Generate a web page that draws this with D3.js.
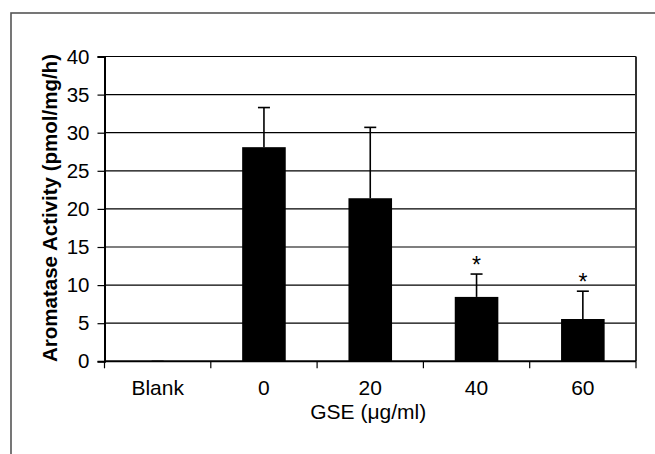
<!DOCTYPE html>
<html>
<head>
<meta charset="utf-8">
<script src="https://cdn.jsdelivr.net/npm/d3@7"></script>
<style>
  body { margin: 0; background: #fff; }
  text { font-family: "Liberation Sans", Arial, sans-serif; }
</style>
</head>
<body>
<div id="chart"></div>
<script>
// GSE dose vs aromatase activity, mean + SD (upper bar only)
const categories = ["Blank", "0", "20", "40", "60"];
const means = [0, 28.1, 21.4, 8.45, 5.55];
const errors = [0.05, 5.2, 9.3, 3.0, 3.65];
const significant = [false, false, false, true, true];
const yTicks = [0, 5, 10, 15, 20, 25, 30, 35, 40];

const W = 655, H = 454;
const margin = { top: 56.5, right: 19, bottom: 92.7, left: 104.5 };
const width = W - margin.left - margin.right;
const height = H - margin.top - margin.bottom;

const data = categories.map((c, i) => ({ cat: c, mean: means[i], err: errors[i], sig: significant[i] }));

const svg = d3.select("#chart").append("svg")
  .attr("width", W)
  .attr("height", H);

// outer frame, runs off the right and bottom edges
svg.append("rect")
  .attr("x", 11).attr("y", 13)
  .attr("width", 700).attr("height", 500)
  .attr("fill", "none")
  .attr("stroke", "#555")
  .attr("stroke-width", 1.6);

const g = svg.append("g")
  .attr("transform", "translate(" + margin.left + "," + margin.top + ")");

const x = d3.scaleBand()
  .domain(categories)
  .range([0, width])
  .paddingInner(0.59)
  .paddingOuter(0.295);

const y = d3.scaleLinear().domain([0, 40]).range([height, 0]);

// gridlines
g.append("g")
  .selectAll("line")
  .data(yTicks.filter(t => t > 0))
  .enter().append("line")
  .attr("x1", 0).attr("x2", width)
  .attr("y1", d => y(d)).attr("y2", d => y(d))
  .attr("stroke", "#000")
  .attr("stroke-width", 1.2);

// right border of plot area
g.append("line")
  .attr("x1", width).attr("x2", width)
  .attr("y1", 0).attr("y2", height)
  .attr("stroke", "#333")
  .attr("stroke-width", 2);

// bars
g.append("g")
  .selectAll("rect")
  .data(data)
  .enter().append("rect")
  .attr("x", d => x(d.cat))
  .attr("y", d => y(d.mean))
  .attr("width", x.bandwidth())
  .attr("height", d => y(0) - y(d.mean))
  .attr("fill", "#000");

// error bars (upper only)
const eb = g.append("g").selectAll("g")
  .data(data)
  .enter().append("g")
  .attr("transform", d => "translate(" + (x(d.cat) + x.bandwidth() / 2) + ",0)");

eb.append("line")
  .attr("y1", d => y(d.mean)).attr("y2", d => y(d.mean + d.err))
  .attr("stroke", d => d.mean > 0 ? "#000" : "#888")
  .attr("stroke-width", 1.6);

eb.append("line")
  .attr("x1", -6).attr("x2", 6)
  .attr("y1", d => y(d.mean + d.err)).attr("y2", d => y(d.mean + d.err))
  .attr("stroke", d => d.mean > 0 ? "#000" : "#888")
  .attr("stroke-width", 1.6);

eb.filter(d => d.sig).append("text")
  .attr("y", d => y(d.mean + d.err) - 1)
  .attr("text-anchor", "middle")
  .attr("font-size", "23px")
  .text("*");

// y axis
const yAxis = g.append("g")
  .call(d3.axisLeft(y).tickValues(yTicks).tickSize(7).tickPadding(8));
yAxis.select(".domain").attr("stroke", "#000").attr("stroke-width", 2);
yAxis.selectAll(".tick line").attr("stroke", "#000").attr("stroke-width", 1.2);
yAxis.selectAll(".tick text")
  .attr("font-size", "20.5px")
  .attr("font-family", "'Liberation Sans', Arial, sans-serif")
  .attr("fill", "#000");

// x axis: ticks on band boundaries
const step = x.step();
const boundaries = d3.range(categories.length + 1).map(i => i * step);
const xAxis = g.append("g").attr("transform", "translate(0," + height + ")");
xAxis.append("line")
  .attr("x1", 0).attr("x2", width)
  .attr("stroke", "#000").attr("stroke-width", 2);
xAxis.selectAll(".bt")
  .data(boundaries)
  .enter().append("line")
  .attr("class", "bt")
  .attr("x1", d => d).attr("x2", d => d)
  .attr("y1", 0).attr("y2", 7)
  .attr("stroke", "#000").attr("stroke-width", 1.2);
xAxis.selectAll(".cl")
  .data(categories)
  .enter().append("text")
  .attr("class", "cl")
  .attr("x", d => x(d) + x.bandwidth() / 2)
  .attr("y", 33.5)
  .attr("text-anchor", "middle")
  .attr("font-size", "21px")
  .text(d => d);

// axis titles
svg.append("text")
  .attr("x", margin.left + width / 2 - 2)
  .attr("y", 419)
  .attr("text-anchor", "middle")
  .attr("font-size", "21px")
  .text("GSE (\u03bcg/ml)");

svg.append("text")
  .attr("transform", "translate(57,208) rotate(-90)")
  .attr("text-anchor", "middle")
  .attr("font-size", "20.5px")
  .attr("font-weight", "bold")
  .text("Aromatase Activity (pmol/mg/h)");
</script>
</body>
</html>
